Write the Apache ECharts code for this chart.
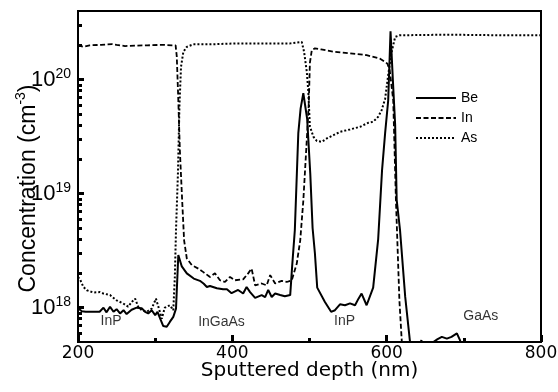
<!DOCTYPE html>
<html><head><meta charset="utf-8">
<script src="https://cdn.jsdelivr.net/npm/echarts@6/dist/echarts.min.js"></script>
<style>html,body{margin:0;padding:0;background:#fff}#c{width:558px;height:392px}</style>
</head><body><div id="c"></div>
<script>
// ---- data (depth in nm, concentration in cm^-3) ----
const beDepth = [200,205,210,222,228,233,237,241.5,246,250,254.5,259,263,269.5,276,282.5,287,291,295.5,300,303,306.5,310.5,315,319,323.5,327,330,334.5,341,350,358,363,367,371,380,388,393,399,407.5,414,418.5,423,429.5,438,442.5,446.5,451,455.5,462,468,475,477.5,481,485.5,488.5,492,497,501,504,507,510,520,528,533,539.5,546,552.5,559,563.5,567.5,574,582.5,589,594,598,602,605,608,611,613,617.3,624,630,636,642,645,648,656,660.5,666,671.5,678,684,691,695,700];
const beConc = [9.9e17,9.3e17,9.2e17,9.2e17,9.2e17,1.0e18,9.1e17,1.02e18,9.2e17,9.7e17,8.9e17,9.5e17,8.8e17,9.6e17,1.0e18,9.9e17,9.2e17,8.9e17,9.5e17,8.6e17,9.2e17,8.0e17,6.9e17,6.8e17,7.5e17,8.3e17,9.8e17,2.9e18,2.3e18,2.0e18,1.8e18,1.72e18,1.62e18,1.52e18,1.55e18,1.48e18,1.45e18,1.45e18,1.34e18,1.43e18,1.33e18,1.52e18,1.37e18,1.22e18,1.29e18,1.24e18,1.43e18,1.24e18,1.33e18,1.29e18,1.26e18,1.29e18,2.3e18,4.8e18,3.4e19,5.6e19,7.6e19,4.5e19,1.5e19,5.0e18,3.0e18,1.5e18,1.12e18,9.2e17,9.5e17,1.07e18,1.05e18,1.09e18,1.05e18,1.2e18,1.33e18,1.05e18,1.5e18,4.0e18,1.6e19,3.4e19,6.6e19,2.65e20,1.0e20,4.0e19,8.8e18,4.8e18,1.25e18,5.2e17,3.0e17,4.2e17,5.2e17,4.0e17,4.2e17,5.0e17,5.3e17,5.55e17,5.35e17,5.55e17,5.95e17,5.2e17,3.5e17];

const inDepth = [200,207,215,230,244,250,261,275,290,310,322,326.5,328,330,332,335,337.5,341,347.5,356,362.5,371,377.5,384,390.5,397,403.5,414,420.5,425,429.5,438,444.5,449,455.5,464,470.5,477,483.5,488,492,497,499,500.5,503,507,515,531,552.5,574,591,598,601,604,608.5,612,616.5,619.5,623];
const inConc = [2.0e20,1.94e20,2.0e20,2.02e20,2.05e20,2.02e20,1.97e20,1.99e20,2.0e20,2.02e20,2.0e20,2.0e20,1.6e20,6.6e19,2.4e19,8.7e18,3.9e18,2.7e18,2.36e18,2.2e18,2.05e18,1.86e18,2.0e18,1.74e18,1.68e18,1.86e18,1.74e18,1.77e18,2.0e18,2.2e18,1.57e18,1.63e18,1.57e18,1.93e18,1.63e18,1.72e18,1.68e18,1.74e18,2.44e18,3.9e18,8.7e18,3.4e19,6.0e19,1.4e20,1.82e20,1.88e20,1.84e20,1.76e20,1.7e20,1.64e20,1.53e20,1.43e20,1.38e20,1.2e20,6.6e19,8.8e18,1.16e18,5.2e17,2.0e17];

const asDepth = [200,203,207,211.5,220,228.5,233,241.5,250,258.5,265,269.5,274,278,282.5,289,295.5,301,305.5,308.5,312.5,319,323.5,325.5,327,329.5,331.5,333.5,336.5,341,349.5,371,405.5,449,475,490,493,496.5,498.5,500.5,505,509.5,516,522.5,531,539.5,552.5,565.5,576,582.5,589,593.5,598,602,606,611,617,660,700,750,800];
const asConc = [1.86e18,1.75e18,1.52e18,1.42e18,1.36e18,1.37e18,1.33e18,1.29e18,1.16e18,1.09e18,1.02e18,1.12e18,1.2e18,1.02e18,9.5e17,9.2e17,9.8e17,1.2e18,9.5e17,8.0e17,1.0e18,1.05e18,9.5e17,1.86e18,4.8e18,1.5e19,6.0e19,1.3e20,1.75e20,1.94e20,2.04e20,2.04e20,2.08e20,2.08e20,2.08e20,2.14e20,1.75e20,1.17e20,7.8e19,3.9e19,3.16e19,2.9e19,2.85e19,3.05e19,3.26e19,3.48e19,3.66e19,3.86e19,4.18e19,4.27e19,4.72e19,5.4e19,6.8e19,1.1e20,1.7e20,2.37e20,2.45e20,2.47e20,2.47e20,2.45e20,2.45e20];

const seriesNames = ['Be','In','As'];
const xTickValues = [200,400,600,800];
const yMajorTicks = [1e18,1e19,1e20];
const yMinorTicks = [6e17,7e17,8e17,9e17,2e18,3e18,4e18,5e18,6e18,7e18,8e18,9e18,2e19,3e19,4e19,5e19,6e19,7e19,8e19,9e19,2e20,3e20];
const regionLabels = ['InP','InGaAs','InP','GaAs'];
const regionDepth = [242.8,386,545.4,722];
const regionConc = [7.6e17,7.5e17,7.6e17,8.4e17];

// ---- chart ----
const zip = (a,b) => a.map((x,i)=>[x,b[i]]);
const chart = echarts.init(document.getElementById('c'));
const sans = "'Liberation Sans', Arial, Helvetica, sans-serif";
const lineBase = (name, d, c, w, type) => ({
  name, type:'line', data: zip(d,c), symbol:'none', showSymbol:false, clip:true,
  lineStyle:{color:'#000', width:w, type}, itemStyle:{color:'#000', opacity:0},
  emphasis:{disabled:true}
});
chart.setOption({
  animation:false,
  backgroundColor:'#fff',
  grid:{left:78, top:11, width:463, height:331, outerBoundsMode:'none',
        show:true, borderColor:'#000', borderWidth:2},
  legend:{
    data: seriesNames, orient:'vertical', left:415, top:91, padding:0,
    itemWidth:40, itemHeight:14, itemGap:6, selectedMode:false,
    itemStyle:{opacity:0},
    textStyle:{fontFamily:sans, fontSize:14, color:'#000'}
  },
  xAxis:{
    type:'value', min:xTickValues[0], max:xTickValues[xTickValues.length-1], interval:200,
    axisLine:{show:true, lineStyle:{color:'#000', width:2}},
    axisTick:{show:true, inside:true, length:7, lineStyle:{color:'#000', width:3}},
    minorTick:{show:true, splitNumber:2, length:4, lineStyle:{color:'#000', width:3}},
    splitLine:{show:false},
    axisLabel:{margin:3, fontFamily:'DejaVu Sans', fontSize:17, color:'#000'},
    name:'Sputtered depth (nm)', nameLocation:'middle', nameGap:19, nameMoveOverlap:false,
    nameTextStyle:{fontFamily:'DejaVu Sans', fontSize:20, color:'#000'}
  },
  yAxis:[{
    type:'log', logBase:10, min:5e17, max:4e20,
    axisLine:{show:true, lineStyle:{color:'#000', width:2}},
    axisTick:{show:true, inside:true, length:6, customValues:yMajorTicks, lineStyle:{color:'#000', width:3}},
    splitLine:{show:false},
    axisLabel:{
      customValues:yMajorTicks, margin:7,
      formatter: v => '{b|10}{s|' + Math.round(Math.log10(v)) + '}',
      rich:{
        b:{fontFamily:sans, fontSize:22, lineHeight:26, color:'#000'},
        s:{fontFamily:sans, fontSize:14, lineHeight:12, verticalAlign:'top', color:'#000'}
      }
    },
    name:'{a|Concentration (cm}{s|-3}{a|)}', nameLocation:'middle', nameGap:34, nameMoveOverlap:false,
    nameTextStyle:{
      padding:[0,24,0,0],
      rich:{
        a:{fontFamily:sans, fontSize:23, lineHeight:30, color:'#000'},
        s:{fontFamily:sans, fontSize:14, lineHeight:14, verticalAlign:'top', color:'#000'}
      }
    }
  },{
    type:'log', logBase:10, min:5e17, max:4e20, position:'left',
    axisLine:{show:false},
    axisTick:{show:true, inside:true, length:4, customValues:yMinorTicks, lineStyle:{color:'#000', width:3}},
    axisLabel:{show:false}, splitLine:{show:false}
  }],
  series:[
    lineBase(seriesNames[0], beDepth, beConc, 2, 'solid'),
    lineBase(seriesNames[1], inDepth, inConc, 1.8, [5,2.5]),
    lineBase(seriesNames[2], asDepth, asConc, 2, [2,2]),
    {
      name:'regions', type:'scatter', data: regionDepth.map((d,i)=>[d, regionConc[i], regionLabels[i]]),
      symbolSize:1, itemStyle:{color:'rgba(0,0,0,0)'}, silent:true,
      label:{show:true, position:'inside', formatter:p=>p.data[2], fontFamily:sans, fontSize:14, color:'#000'}
    }
  ]
});
</script></body></html>
